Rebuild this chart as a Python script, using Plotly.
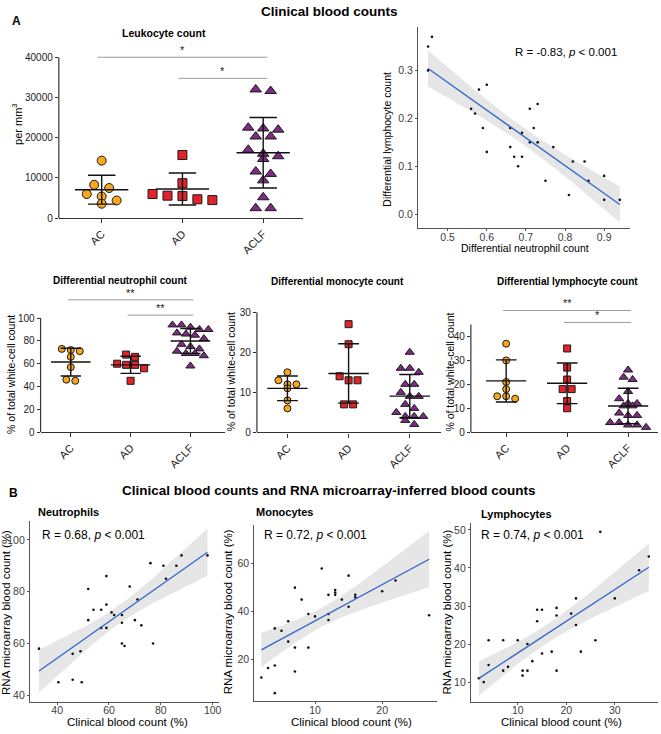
import numpy as np
import plotly.graph_objects as go

W, H = 661, 734
FONT = "Liberation Sans, Arial, sans-serif"

# ---------------- data ----------------
groups = ["AC", "AD", "ACLF"]
group_colors = ["#F9A61C", "#E3222A", "#7D2B84"]
group_symbols = ["circle", "square", "triangle-up"]

leuko_ac = [14300, 8300, 7500, 6000, 5400, 4400, 3600]
leuko_ad = [15700, 8700, 6000, 5600, 5500, 4700, 4500]
leuko_aclf = [32000, 31600, 22500, 22300, 22000, 20300, 20300, 17000, 16000,
              15400, 14700, 11600, 11000, 9400, 5200, 2500, 2500]
leuko_ticks = [0, 10000, 20000, 30000, 40000]

neut_ac = [73, 72, 71, 66, 57, 46, 45]
neut_ad = [68, 66, 60, 59, 59, 56, 45]
neut_aclf = [94, 94, 92, 90, 90, 87, 86, 85, 82, 77, 75, 73, 71, 69, 69, 67, 58]

mono_ac = [15, 13, 12, 12, 11, 8, 6]
mono_ad = [27, 22, 14, 13, 13, 7, 7]
mono_aclf = [20, 16, 16, 15, 12, 12, 10, 9, 9, 7, 6, 5, 4, 4, 4, 3, 2]

lymph_ac = [37, 30, 21, 18, 15, 15, 14]
lymph_ad = [35, 27, 22, 18, 18, 13, 10]
lymph_aclf = [26, 23, 22, 17, 14, 12, 12, 11, 11, 8, 7, 7, 4, 4, 3, 3, 2]

leuko_sig = [(0, 2, 40000, "*"), (1, 2, 34750, "*")]
neut_sig = [(0, 2, 116, "**"), (1, 2, 102.6, "**")]
lymph_sig = [(0, 2, 50.9, "**"), (1, 2, 45.9, "*")]

# neutrophil fraction vs lymphocyte fraction
nl_neut = [0.45, 0.46, 0.45, 0.58, 0.60, 0.56, 0.57, 0.59, 0.60, 0.66, 0.66, 0.67,
           0.68, 0.69, 0.69, 0.71, 0.72, 0.71, 0.73, 0.73, 0.75, 0.77, 0.81, 0.82,
           0.85, 0.86, 0.90, 0.90, 0.94]
nl_lymph = [0.35, 0.37, 0.30, 0.26, 0.27, 0.22, 0.21, 0.18, 0.13, 0.14, 0.18, 0.12,
            0.10, 0.12, 0.17, 0.22, 0.18, 0.15, 0.23, 0.15, 0.07, 0.14, 0.04, 0.11,
            0.11, 0.07, 0.08, 0.03, 0.03]

# clinical vs RNA microarray-inferred
neut_clin = [33, 40.5, 46, 49.5, 46, 49, 52, 52, 54, 57, 57, 59, 59, 59, 61, 62,
             65, 65, 65, 66, 68, 71, 70, 72.5, 77, 76, 81, 86, 82, 88, 98]
neut_rna = [58, 45, 46, 45, 56, 57, 81, 69, 73, 73, 66, 66, 86, 75, 72, 71,
            71, 68, 60, 59, 82, 77, 69, 67, 60, 91, 90, 90, 85, 94, 94]

mono_clin = [2, 3, 4, 4, 4, 5, 6, 6, 7, 7, 7, 8, 9, 9, 10, 11, 12, 12, 12, 13,
             13, 13, 14, 15, 15, 16, 16, 20, 22, 27]
mono_rna = [12.5, 16.5, 17.5, 6, 33, 32, 36, 27.5, 50, 25, 15, 45, 39, 25, 38, 58,
            47, 39, 36.5, 49, 48, 47, 45, 55, 42, 47, 46, 48.5, 53, 38.5]

lymph_clin = [2, 3, 4, 4, 7, 7, 8, 10, 11, 11, 12, 12, 13, 14, 14, 15, 15, 17, 18,
              18, 18, 21, 22, 22, 23, 26, 27, 30, 35, 37]
lymph_rna = [11, 10, 14.5, 21, 13, 21, 14, 21, 13, 11.7, 13, 20, 15.5, 26, 29, 29,
             17.5, 18, 29.5, 27.5, 13, 28, 32, 25, 18, 21, 49.5, 32, 39.4, 43]


# ---------------- helpers ----------------
def lin(p_a, v_a, p_b, v_b, p):
    return v_a + (p - p_a) * (v_b - v_a) / (p_b - p_a)


def xaxis_px(p_a, v_a, p_b, v_b, p_lo, p_hi):
    return dict(domain=[p_lo / W, p_hi / W],
                range=[lin(p_a, v_a, p_b, v_b, p_lo), lin(p_a, v_a, p_b, v_b, p_hi)])


def yaxis_px(p_a, v_a, p_b, v_b, p_top, p_bot):
    return dict(domain=[1 - p_bot / H, 1 - p_top / H],
                range=[lin(p_a, v_a, p_b, v_b, p_bot), lin(p_a, v_a, p_b, v_b, p_top)])


def swarm(vals, ppv, diam, step_px, ppc):
    vals = np.asarray(vals, float)
    order = np.argsort(-vals, kind="stable")
    off = np.zeros(len(vals))
    i = 0
    while i < len(order):
        row = [order[i]]
        start = vals[order[i]]
        j = i + 1
        while j < len(order) and (start - vals[order[j]]) * ppv < diam:
            row.append(order[j])
            j += 1
        n = len(row)
        for k, idx in enumerate(row):
            off[idx] = (k - (n - 1) / 2) * step_px / ppc
        i = j
    return off


def tcrit(dof):
    z = 1.959964
    return z + (z ** 3 + z) / (4 * dof) + (5 * z ** 5 + 16 * z ** 3 + 3 * z) / (96 * dof ** 2)


def fit_band(x, y, n=80):
    x = np.asarray(x, float)
    y = np.asarray(y, float)
    b, a = np.polyfit(x, y, 1)
    xs = np.linspace(x.min(), x.max(), n)
    yh = a + b * xs
    dof = len(x) - 2
    s = np.sqrt(np.sum((y - (a + b * x)) ** 2) / dof)
    xm = x.mean()
    sxx = np.sum((x - xm) ** 2)
    se = s * np.sqrt(1 / len(x) + (xs - xm) ** 2 / sxx)
    t = tcrit(dof)
    return xs, yh, yh - t * se, yh + t * se


fig = go.Figure()
annotations = []
shapes = []


def ann(text, px, py, size, bold=False, xanchor="center", yanchor="middle", angle=0, color="#000"):
    if bold:
        text = "<b>" + text + "</b>"
    annotations.append(dict(text=text, x=px / W, y=1 - py / H, xref="paper", yref="paper",
                            showarrow=False, font=dict(size=size, color=color, family=FONT),
                            xanchor=xanchor, yanchor=yanchor, textangle=angle))


AX_GP = "#333333"


def column_panel(idx, data, xpx, ypx, ytop_val, yticks, msize, step_px, sig, tickfont):
    xa = xaxis_px(*xpx)
    ya = yaxis_px(*ypx)
    ppc = (xpx[2] - xpx[0]) / (xpx[3] - xpx[1])
    ppv = abs((ypx[2] - ypx[0]) / (ypx[3] - ypx[1]))
    xs_name = "x" if idx == 1 else "x%d" % idx
    ys_name = "y" if idx == 1 else "y%d" % idx
    for g, vals in enumerate(data):
        off = swarm(vals, ppv, msize * 0.95, step_px, ppc)
        fig.add_trace(go.Scatter(
            x=g + off, y=vals, mode="markers", xaxis=xs_name, yaxis=ys_name,
            marker=dict(symbol=group_symbols[g], color=group_colors[g],
                        size=msize if g != 2 else msize + 1,
                        line=dict(color="#1a1a1a", width=1)),
            showlegend=False, hoverinfo="y", cliponaxis=False))
    lx, ly = [], []
    for g, vals in enumerate(data):
        m = float(np.mean(vals))
        sd = float(np.std(vals, ddof=1))
        lx += [g - 0.33, g + 0.33, None, g, g, None, g - 0.17, g + 0.17, None, g - 0.17, g + 0.17, None]
        ly += [m, m, None, m - sd, m + sd, None, m + sd, m + sd, None, m - sd, m - sd, None]
    fig.add_trace(go.Scatter(x=lx, y=ly, mode="lines", xaxis=xs_name, yaxis=ys_name,
                             line=dict(color="#111", width=1.4), showlegend=False,
                             hoverinfo="skip"))
    for (a, b, lev, star) in sig:
        shapes.append(dict(type="line", xref=xs_name, yref=ys_name, x0=a - 0.05, x1=b + 0.05,
                           y0=lev, y1=lev, line=dict(color="#9a9a9a", width=1)))
        annotations.append(dict(text=star, x=(a + b) / 2, y=lev, xref=xs_name, yref=ys_name,
                                showarrow=False, yanchor="bottom", yshift=-1,
                                font=dict(size=tickfont + 1, color="#222222", family=FONT)))
    shapes.append(dict(type="line", xref=xs_name + " domain", yref=ys_name, x0=0, x1=0,
                       y0=0, y1=ytop_val, line=dict(color=AX_GP, width=1.2)))
    xa.update(dict(tickvals=[0, 1, 2], ticktext=groups, tickangle=-45, ticks="outside",
                   ticklen=4, tickcolor=AX_GP, showline=True, linecolor=AX_GP, linewidth=1.2,
                   showgrid=False, zeroline=False, anchor=ys_name,
                   tickfont=dict(size=tickfont + 1, color="#222", family=FONT)))
    ya.update(dict(tickvals=yticks, ticktext=[str(v) for v in yticks], ticks="outside",
                   ticklen=3, tickcolor=AX_GP,
                   showline=False, showgrid=False, zeroline=False, anchor=xs_name,
                   tickfont=dict(size=tickfont, color="#222", family=FONT)))
    key = "" if idx == 1 else str(idx)
    fig.layout["xaxis" + key] = xa
    fig.layout["yaxis" + key] = ya


AX_GG = "#555555"


def scatter_panel(idx, x, y, xpx, ypx, xticks, yticks, fmt=None, tsize=11):
    xa = xaxis_px(*xpx)
    ya = yaxis_px(*ypx)
    xs_name = "x%d" % idx
    ys_name = "y%d" % idx
    xs, yh, lo, hi = fit_band(x, y)
    fig.add_trace(go.Scatter(x=np.concatenate([xs, xs[::-1]]), y=np.concatenate([lo, hi[::-1]]),
                             fill="toself", fillcolor="#E6E6E6", line=dict(width=0),
                             mode="lines", xaxis=xs_name, yaxis=ys_name, showlegend=False,
                             hoverinfo="skip"))
    fig.add_trace(go.Scatter(x=x, y=y, mode="markers", xaxis=xs_name, yaxis=ys_name,
                             marker=dict(color="#111", size=2.6), showlegend=False))
    fig.add_trace(go.Scatter(x=xs, y=yh, mode="lines", xaxis=xs_name, yaxis=ys_name,
                             line=dict(color="#3366CC", width=1.3), showlegend=False,
                             hoverinfo="skip"))
    common = dict(showline=True, linecolor=AX_GG, linewidth=1, ticks="outside", ticklen=2,
                  tickcolor=AX_GG, showgrid=False, zeroline=False,
                  tickfont=dict(size=tsize, color="#3d3d3d", family=FONT))
    xa.update(common)
    ya.update(common)
    f = fmt if fmt else "%g"
    xa.update(dict(tickvals=xticks, ticktext=[f % v for v in xticks], anchor=ys_name,
                   ticklabelstandoff=-3))
    ya.update(dict(tickvals=yticks, ticktext=[f % v for v in yticks], anchor=xs_name))
    fig.layout["xaxis%d" % idx] = xa
    fig.layout["yaxis%d" % idx] = ya


# ---------------- panel A ----------------
column_panel(1, [leuko_ac, leuko_ad, leuko_aclf],
             (102, 0, 264, 2, 59, 304), (220, 0, 57.7, 40000, 40, 220),
             40000, leuko_ticks, 9, 15, leuko_sig, 10)

scatter_panel(2, nl_neut, nl_lymph, (449, 0.5, 606, 0.9, 419.3, 631.7),
              (216, 0.0, 71, 0.3, 27, 230), [0.5, 0.6, 0.7, 0.8, 0.9], [0.0, 0.1, 0.2, 0.3],
              fmt="%.1f", tsize=10.5)

column_panel(3, [neut_ac, neut_ad, neut_aclf],
             (71, 0, 191, 2, 40.7, 226), (435.7, 0, 320.7, 100, 290, 435.7),
             100, [0, 20, 40, 60, 80, 100], 7, 9, neut_sig, 10)
column_panel(4, [mono_ac, mono_ad, mono_aclf],
             (288.3, 0, 411, 2, 257.7, 442), (436, 0, 314.7, 30, 305, 436),
             30, [0, 10, 20, 30], 7, 9, [], 10)
column_panel(5, [lymph_ac, lymph_ad, lymph_aclf],
             (507.7, 0, 630, 2, 472.3, 660), (435.7, 0, 339.3, 40, 300, 435.7),
             45, [0, 10, 20, 30, 40], 7, 9, lymph_sig, 10)

# ---------------- panel B ----------------
scatter_panel(6, neut_clin, neut_rna, (57.3, 40, 213.3, 100, 30, 219.8),
              (701, 40, 544.3, 100, 525, 707.3), [40, 60, 80, 100], [40, 60, 80, 100],
              tsize=10.5)
scatter_panel(7, mono_clin, mono_rna, (316, 10, 383.3, 20, 255, 438.8),
              (665, 20, 568.3, 60, 529, 706.7), [10, 20], [20, 40, 60], tsize=10.5)
scatter_panel(8, lymph_clin, lymph_rna, (519.3, 10, 616.7, 30, 472.3, 659.5),
              (687.7, 10, 534.3, 50, 527, 707.3), [10, 20, 30], [10, 20, 30, 40, 50],
              tsize=10.5)

# ---------------- texts ----------------
ann("Clinical blood counts", 330, 12, 13.5, bold=True)
ann("A", 17, 21, 12, bold=True)
ann("Leukocyte count", 164, 33, 10.5, bold=True)
ann("per mm<sup>3</sup>", 17, 125, 11, angle=-90)

ann("R = -0.83, <i>p</i> &lt; 0.001", 568, 52, 11.5)
ann("Differential neutrophil count", 527, 250, 10.5)
ann("Differential lymphocyte count", 388, 140, 10.5, angle=-90)

ann("Differential neutrophil count", 121, 283, 10, bold=True)
ann("Differential monocyte count", 339, 284, 10, bold=True)
ann("Differential lymphocyte count", 569, 284, 10, bold=True)
ann("% of total white-cell count", 11, 377, 10.5, angle=-90)
ann("% of total white-cell count", 232, 375, 10.5, angle=-90)
ann("% of total white-cell count", 451, 375, 10.5, angle=-90)

ann("B", 14, 497, 12, bold=True)
ann("Clinical blood counts and RNA microarray-inferred blood counts", 330, 495, 13.5, bold=True)
ann("Neutrophils", 36, 516, 11, bold=True, xanchor="left")
ann("Monocytes", 255, 516, 11, bold=True, xanchor="left")
ann("Lymphocytes", 480, 518, 11, bold=True, xanchor="left")
ann("R = 0.68, <i>p</i> &lt; 0.001", 40, 539, 12, xanchor="left")
ann("R = 0.72, <i>p</i> &lt; 0.001", 263, 539, 12, xanchor="left")
ann("R = 0.74, <i>p</i> &lt; 0.001", 480, 539, 12, xanchor="left")
ann("Clinical blood count (%)", 128, 728, 11.5)
ann("Clinical blood count (%)", 353, 728, 11.5)
ann("Clinical blood count (%)", 563, 728, 11.5)
ann("RNA microarray blood count (%)", 6, 617, 11.5, angle=-90)
ann("RNA microarray blood count (%)", 229, 617, 11.5, angle=-90)
ann("RNA microarray blood count (%)", 448, 617, 11.5, angle=-90)

fig.update_layout(width=W, height=H, margin=dict(l=0, r=0, t=0, b=0),
                  plot_bgcolor="white", paper_bgcolor="white",
                  annotations=annotations, shapes=shapes,
                  font=dict(family=FONT), showlegend=False)

fig.write_html("out.html", config={"displayModeBar": False},
               post_script="document.body.style.margin='0px';document.body.style.padding='0px';")
